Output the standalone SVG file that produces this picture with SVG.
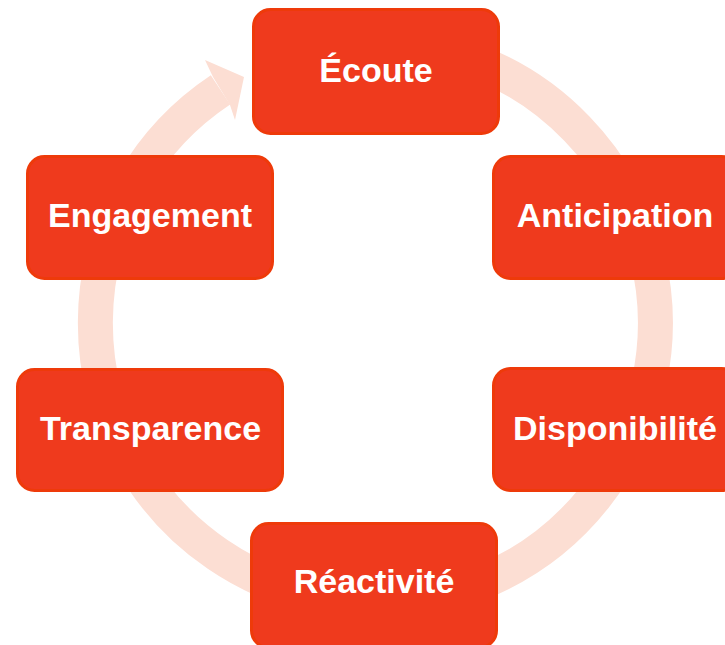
<svg xmlns="http://www.w3.org/2000/svg" width="725" height="645" viewBox="0 0 725 645">
<style>
.box{fill:#EF3A1D;stroke:#EE3A0A;stroke-width:3}
.lbl{fill:#FFFFFF;font-family:"Liberation Sans",Arial,sans-serif;font-weight:bold;font-size:34px;text-anchor:middle}
.ring{fill:none;stroke:#FCDED3;stroke-width:35}
.head{fill:#FCDED3}
</style>
<rect width="725" height="645" fill="#FFFFFF"/>
<g id="connectors">
<path class="ring" d="M 326.9 47.3 A 280 280 0 1 1 220.5 89.8"/>
<polygon class="head" points="213,77 205,60 244,77 235,120 230,105"/>
</g>
<g id="ecoute">
<rect class="box" x="253.5" y="9.5" width="245" height="124" rx="17"/>
<text class="lbl" x="376" y="82">Écoute</text>
</g>
<g id="anticipation">
<rect class="box" x="493.5" y="156.5" width="245" height="122" rx="17"/>
<text class="lbl" x="615" y="227">Anticipation</text>
</g>
<g id="disponibilite">
<rect class="box" x="493.5" y="368.5" width="245" height="122" rx="17"/>
<text class="lbl" x="615" y="440">Disponibilité</text>
</g>
<g id="reactivite">
<rect class="box" x="251.5" y="523.5" width="245" height="124" rx="17"/>
<text class="lbl" x="374" y="593">Réactivité</text>
</g>
<g id="transparence">
<rect class="box" x="17.5" y="369.5" width="265" height="121" rx="17"/>
<text class="lbl" x="150.5" y="440">Transparence</text>
</g>
<g id="engagement">
<rect class="box" x="27.5" y="156.5" width="245" height="122" rx="17"/>
<text class="lbl" x="150" y="227">Engagement</text>
</g>
</svg>
